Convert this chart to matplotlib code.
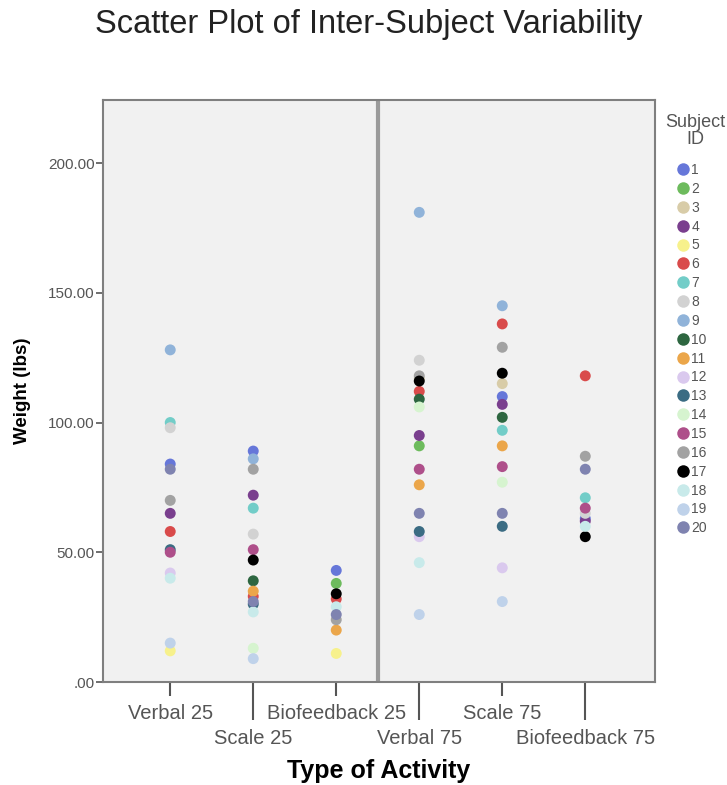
import numpy as np
import matplotlib
matplotlib.use("Agg")
import matplotlib.pyplot as plt
from matplotlib.lines import Line2D

nan = np.nan
categories = ["Verbal 25", "Scale 25", "Biofeedback 25", "Verbal 75", "Scale 75", "Biofeedback 75"]
subjects = [str(i) for i in range(1, 21)]

# weight (lbs) per subject for each activity (nan = not visible)
s1 = [84, 89, 43, nan, 110, 63]
s2 = [nan, nan, 38, 91, nan, nan]
s3 = [nan, nan, nan, 117, 115, nan]
s4 = [65, 72, nan, 95, 107, 62]
s5 = [12, nan, 11, nan, nan, nan]
s6 = [58, 33, 32, 112, 138, 118]
s7 = [100, 67, nan, nan, 97, 71]
s8 = [98, 57, nan, 124, nan, 65]
s9 = [128, 86, nan, 181, 145, nan]
s10 = [nan, 39, nan, 109, 102, nan]
s11 = [nan, 35, 20, 76, 91, nan]
s12 = [42, nan, nan, 56, 44, nan]
s13 = [51, 30, nan, 58, 60, nan]
s14 = [nan, 13, nan, 106, 77, nan]
s15 = [50, 51, nan, 82, 83, 67]
s16 = [70, 82, 24, 118, 129, 87]
s17 = [nan, 47, 34, 116, 119, 56]
s18 = [40, 27, 29, 46, nan, 60]
s19 = [15, 9, nan, 26, 31, nan]
s20 = [82, 31, 26, 65, 65, 82]
values = [s1, s2, s3, s4, s5, s6, s7, s8, s9, s10,
          s11, s12, s13, s14, s15, s16, s17, s18, s19, s20]

colors = ["#6677d9", "#6dbb5d", "#d8cca8", "#7a3f8e", "#f7f18c",
          "#d94b4b", "#72cdc8", "#d2d2d2", "#90b3d9", "#2d6640",
          "#eba64a", "#dac9ee", "#3b6c83", "#d6f4cf", "#ae4f8a",
          "#a2a2a2", "#000000", "#c8eaea", "#bfd2ea", "#7f83b0"]

plt.rcParams['font.family'] = ['Liberation Sans', 'DejaVu Sans']
fig = plt.figure(figsize=(7.27, 7.85), dpi=100)
ax = fig.add_axes([103/727, 1-682/785, (655-103)/727, (682-100)/785])
ax.set_facecolor("#f1f1f1")

x = np.arange(1, len(categories) + 1)
for subj, vals, c in zip(subjects, values, colors):
    ax.scatter(x, vals, s=62, color=c, edgecolors='none', zorder=3)

ax.set_xlim(0.19, 6.84)
ax.set_ylim(0, 224.3)
ax.axvline(3.5, color="#9a9a9a", lw=3, zorder=2)

for sp in ax.spines.values():
    sp.set_color("#7f7f7f")
    sp.set_linewidth(1.5)

ax.set_yticks([0, 50, 100, 150, 200])
ax.set_yticklabels([".00", "50.00", "100.00", "150.00", "200.00"], fontsize=11, color="#555555")
ax.tick_params(axis='y', length=5, width=1.2, color="#555555", pad=1)

ax.set_xticks(x[0::2])
ax.set_xticklabels(categories[0::2], fontsize=14.5, color="#555555")
ax.set_xticks(x[1::2], minor=True)
ax.set_xticklabels(categories[1::2], minor=True, fontsize=14.5, color="#555555")
ax.tick_params(axis='x', which='major', length=10, width=1.5, color="#555555", pad=6)
ax.tick_params(axis='x', which='minor', length=27, width=1.5, color="#555555", pad=7)

ax.set_ylabel("Weight (lbs)", fontsize=13.5, fontweight='bold', labelpad=12)
ax.set_xlabel("Type of Activity", fontsize=18, fontweight='bold', labelpad=8)

fig.text(369/727, 1-25/785, "Scatter Plot of Inter-Subject Variability", ha='center', va='center', fontsize=23.5, color="#222222")

fig.text(695/727, 1-131/785, "Subject\nID", ha='center', va='center', fontsize=13,
         color="#555555", linespacing=1.0, multialignment='center')

handles = [Line2D([], [], marker='o', ls='none', markersize=9, markerfacecolor=c,
                  markeredgecolor='none') for c in colors]
leg = fig.legend(handles, subjects, loc='upper left',
                 bbox_to_anchor=(672/727, 1-163/785), frameon=False,
                 fontsize=10, handletextpad=-0.2, labelspacing=0.35,
                 borderpad=0, borderaxespad=0, handlelength=1.6)
for t in leg.get_texts():
    t.set_color("#555555")

fig.savefig("out.png", dpi=100)
